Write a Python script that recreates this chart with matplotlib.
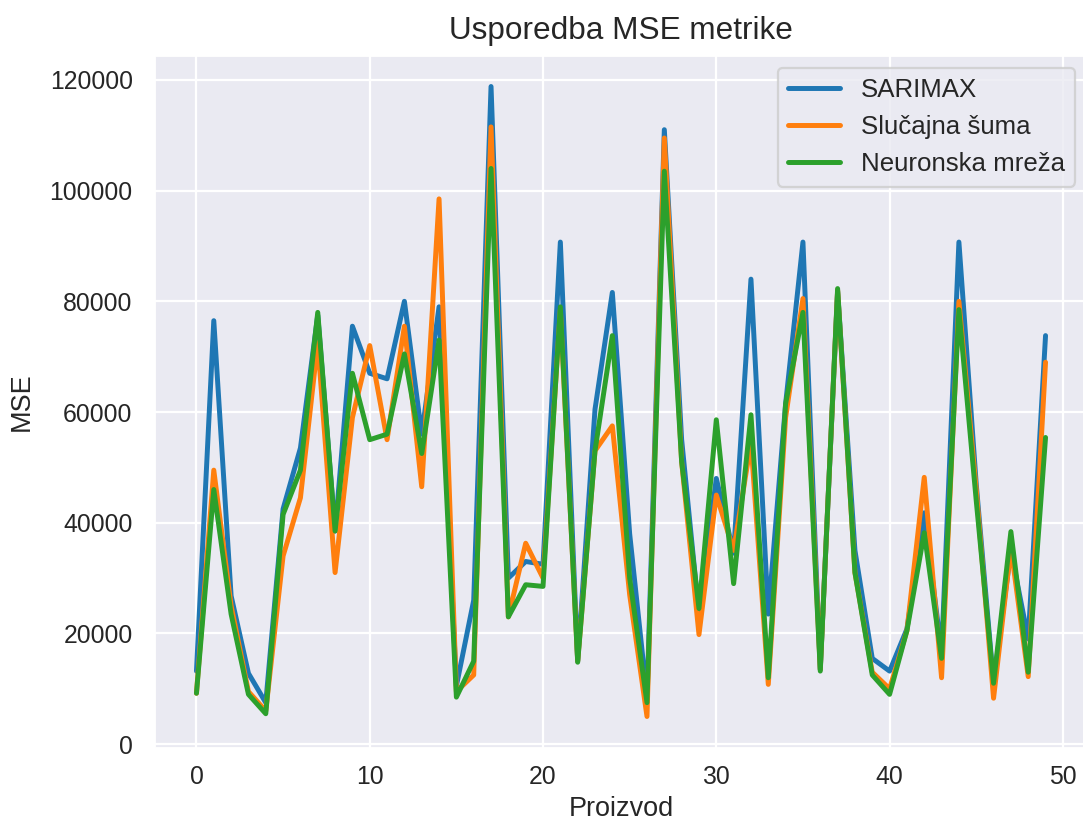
import matplotlib
matplotlib.use("Agg")
import matplotlib.pyplot as plt
import seaborn as sns


sns.set_theme(style="darkgrid", palette="tab10")
plt.rcParams['font.family'] = ['Liberation Sans', 'DejaVu Sans']


proizvod = list(range(50))

sarimax = [
	13200, 76500, 26800, 12800, 7500, 42500, 53500, 77500, 38500, 75500,
	67000, 66000, 80000, 56000, 79000, 10500, 26000, 118800, 30000, 33000,
	32500, 90700, 15000, 60500, 81600, 38000, 8500, 111000, 55000, 23500,
	48000, 34500, 84000, 23500, 61500, 90700, 13500, 81800, 35000, 15500,
	13200, 20800, 41800, 16500, 90700, 47000, 11000, 35000, 19000, 73800]

slucajna_suma = [
	9200, 49500, 25000, 9500, 6000, 34000, 44500, 72500, 31000, 59000,
	72000, 55000, 75500, 46500, 98500, 9500, 12500, 111500, 23000, 36300,
	30000, 78500, 15000, 53000, 57500, 27000, 5000, 109500, 51000, 19800,
	45000, 35000, 54500, 10800, 59000, 80500, 13500, 82000, 31000, 13000,
	10000, 20500, 48200, 12000, 80000, 46000, 8300, 35500, 12200, 69000]

neuronska_mreza = [
	9200, 46000, 23500, 9000, 5500, 41500, 49500, 78000, 38500, 67000,
	55000, 56000, 70500, 52500, 73000, 8500, 15000, 104000, 23000, 28800,
	28500, 79000, 14800, 53000, 73800, 30000, 7500, 103500, 51000, 24500,
	58600, 29000, 59500, 12000, 61500, 78000, 13200, 82300, 31000, 12500,
	9000, 20500, 38200, 15500, 78500, 44000, 11000, 38400, 13000, 55400]


fig = plt.figure(figsize=(1083 / 162, 824 / 162), dpi=162)
ax = fig.add_axes([154 / 1083, 76 / 824, 934 / 1083, 693 / 824])

ax.plot(proizvod, sarimax, label="SARIMAX", linewidth=2.2)
ax.plot(proizvod, slucajna_suma, label="Slučajna šuma", linewidth=2.2)
ax.plot(proizvod, neuronska_mreza, label="Neuronska mreža", linewidth=2.2)

ax.set_title("Usporedba MSE metrike", fontsize=14, pad=7)
ax.set_xlabel("Proizvod", fontsize=12, labelpad=3)
ax.set_ylabel("MSE", fontsize=12, labelpad=6.5)
ax.tick_params(labelsize=11)
ax.tick_params(axis='x', pad=1.5)
ax.legend(loc="upper right", fontsize=11.5)

fig.savefig("out.png", dpi=162)
